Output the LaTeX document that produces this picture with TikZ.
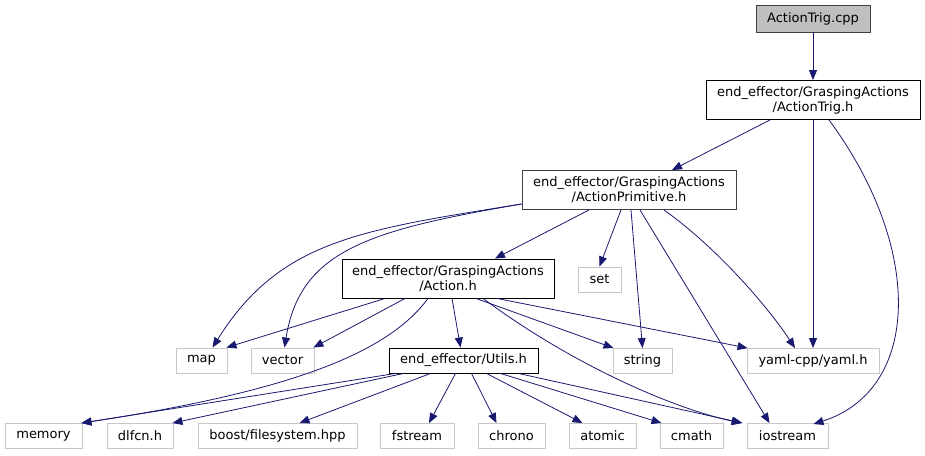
\documentclass[tikz,border=0pt]{standalone}
\usepackage{fontspec}
\setmainfont{DejaVu Sans}
\usepackage{xcolor}
\usepackage{tikz}
\usetikzlibrary{positioning, arrows.meta}
\definecolor{edgeBlue}{HTML}{191970}
\definecolor{rootGray}{HTML}{BFBFBF}

\begin{document}
\begin{tikzpicture}[
        x=1pt, y=-1pt, font=\fontsize{13}{15}\selectfont, >=Triangle,
        box/.style={draw=black, line width=0.9pt, align=center, inner sep=0pt, minimum height=25pt},
        wide/.style={box, minimum height=39pt},
        root/.style={box, draw=black!75, fill=rootGray, minimum height=27pt},
        sys/.style={box, draw=black!22},
        arr/.style={-{Triangle[length=10pt, width=8pt]}, draw=edgeBlue, line width=0.8pt}]
        \useasboundingbox (0,0) rectangle (925,455);
        % top of the graph
        \node[root, minimum width=114pt] (cpp) at (813,18.5) {ActionTrig.cpp};
        \node[wide, minimum width=214pt] (trigh) at (813,100) {end\_effector/GraspingActions\\/ActionTrig.h};
        \node[wide, draw=black!75, minimum width=214pt] (prim) at (629,190) {end\_effector/GraspingActions\\/ActionPrimitive.h};
        \node[wide, minimum width=212pt] (act) at (448,278.5) {end\_effector/GraspingActions\\/Action.h};
        \node[sys, minimum width=43pt] (set) at (599.5,279.5) {set};
        % middle row
        \node[sys, minimum width=51pt] (map) at (201.5,360.5) {map};
        \node[sys, minimum width=63pt] (vector) at (282.5,360.5) {vector};
        \node[box, minimum width=149pt] (utils) at (463.5,360.5) {end\_effector/Utils.h};
        \node[sys, minimum width=59pt] (string) at (642.5,361) {string};
        \node[sys, minimum width=132pt] (yaml) at (813,361) {yaml-cpp/yaml.h};
        % bottom row
        \node[sys, minimum width=77pt] (memory) at (43.5,436) {memory};
        \node[sys, minimum width=66pt] (dlfcn) at (140,436) {dlfcn.h};
        \node[sys, minimum width=159pt] (boost) at (277.5,436) {boost/filesystem.hpp};
        \node[sys, minimum width=74pt] (fstream) at (417,436) {fstream};
        \node[sys, minimum width=67pt] (chrono) at (511.5,436) {chrono};
        \node[sys, minimum width=67pt] (atomic) at (602.5,436) {atomic};
        \node[sys, minimum width=63pt] (cmath) at (691.5,436) {cmath};
        \node[sys, minimum width=81pt] (iostream) at (787.5,436) {iostream};
        % includes
        \draw[arr] (cpp) -- (trigh);
        \draw[arr] ([xshift=-43pt]trigh.south) -- ([xshift=43pt]prim.north);
        \draw[arr] (trigh.south) -- (yaml.north);
        \draw[arr] ([xshift=16pt]trigh.south) .. controls (925,250) and (920,390) .. ([xshift=26pt,yshift=-1pt]iostream.north);
        \draw[arr] ([xshift=-40pt]prim.south) -- ([xshift=47pt]act.north);
        \draw[arr] ([xshift=-8pt]prim.south) -- (set.north);
        \draw[arr] ([xshift=2pt]prim.south) -- (string.north);
        \draw[arr] ([xshift=11pt]prim.south) -- ([xshift=-18pt]iostream.north);
        \draw[arr] ([xshift=35pt]prim.south) .. controls (720,250) and (770,310) .. ([xshift=-18pt]yaml.north);
        \draw[arr] ([yshift=-14pt]prim.west) .. controls (360,230) and (280,240) .. ([xshift=11pt]map.north);
        \draw[arr] ([yshift=-14pt]prim.west) .. controls (370,230) and (300,250) .. ([xshift=2pt]vector.north);
        \draw[arr] ([xshift=-63pt]act.south) -- ([xshift=-1pt]map.north east);
        \draw[arr] ([xshift=-43pt]act.south) -- ([xshift=-1pt]vector.north east);
        \draw[arr] ([xshift=-20pt]act.south) .. controls (390,350) and (300,390) .. ([xshift=-1pt]memory.north east);
        \draw[arr] ([xshift=4pt]act.south) -- ([xshift=-3pt]utils.north);
        \draw[arr] ([xshift=28pt]act.south) -- ([xshift=1pt]string.north west);
        \draw[arr] ([xshift=49pt]act.south) -- ([xshift=1pt]yaml.north west);
        \draw[arr] ([xshift=35pt]act.south) .. controls (580,370) and (680,410) .. ([xshift=-5pt]iostream.north west);
        \draw[arr] ([xshift=-68pt]utils.south) -- ([xshift=-1pt]memory.north east);
        \draw[arr] ([xshift=-60pt]utils.south) -- ([xshift=-1pt]dlfcn.north east);
        \draw[arr] ([xshift=-33pt]utils.south) -- ([xshift=22pt]boost.north);
        \draw[arr] ([xshift=-8pt]utils.south) -- ([xshift=12pt]fstream.north);
        \draw[arr] ([xshift=8pt]utils.south) -- ([xshift=-15pt]chrono.north);
        \draw[arr] ([xshift=23pt]utils.south) -- ([xshift=-20pt]atomic.north);
        \draw[arr] ([xshift=37pt]utils.south) -- ([xshift=-30pt]cmath.north);
        \draw[arr] ([xshift=55pt]utils.south) -- ([xshift=-4pt]iostream.north west);
      \end{tikzpicture}
\end{document}
